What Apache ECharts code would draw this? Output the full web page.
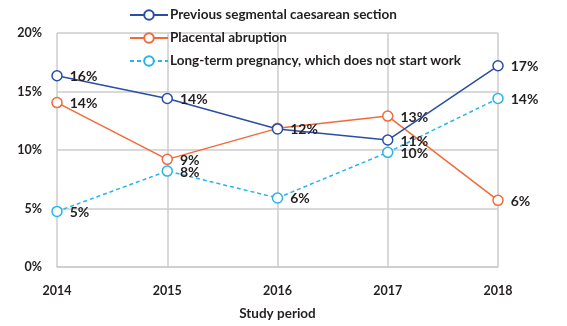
<!DOCTYPE html>
<html><head><meta charset="utf-8">
<script src="https://cdn.jsdelivr.net/npm/echarts@6/dist/echarts.min.js"></script>
<style>html,body{margin:0;padding:0;background:#fff}#c{width:567px;height:326px}</style>
</head><body><div id="c"></div>
<script>
const categories = ['2014','2015','2016','2017','2018'];
const seriesNames = ['Previous segmental caesarean section','Placental abruption','Long-term pregnancy, which does not start work'];
const caesarean = [16.35, 14.4, 11.8, 10.85, 17.2];
const abruption = [14.05, 9.2, 11.85, 12.9, 5.7];
const longTerm = [4.75, 8.2, 5.9, 9.8, 14.4];
const hiddenLabels = [[], [2], []];
const yTicks = [0, 5, 10, 15, 20];

const FONT = 'Lato';
const TXT = '#231f20';
const colors = ['#2b4ea5', '#f26a3a', '#27b4ea'];
const styles = ['solid', 'solid', [4, 3]];
const values = [caesarean, abruption, longTerm];

const chart = echarts.init(document.getElementById('c'));
chart.setOption({
  animation: false,
  textStyle: {fontFamily: FONT},
  legend: {
    orient: 'vertical', left: 124, top: 3, itemGap: 9,
    itemWidth: 38, itemHeight: 12,
    textStyle: {fontFamily: FONT, fontSize: 13.5, fontWeight: 700, color: TXT, padding: [0,0,0,-3]},
    data: seriesNames
  },
  grid: {left: 57, right: 69, top: 33, bottom: 58},
  xAxis: {
    type: 'category', data: categories, boundaryGap: false,
    name: 'Study period', nameLocation: 'middle', nameGap: 40,
    nameTextStyle: {fontFamily: FONT, fontSize: 13.5, fontWeight: 700, color: TXT},
    axisLine: {lineStyle: {color: '#cccccc', width: 1.5}},
    axisTick: {show: false},
    axisLabel: {fontFamily: FONT, fontSize: 12.5, fontWeight: 700, color: TXT, margin: 17},
    splitLine: {show: true, lineStyle: {color: '#cccccc', width: 1.5}}
  },
  yAxis: {
    type: 'value', min: yTicks[0], max: yTicks[yTicks.length-1], interval: 5,
    axisLine: {show: false}, axisTick: {show: false},
    axisLabel: {fontFamily: FONT, fontSize: 12.5, fontWeight: 700, color: TXT, margin: 15, formatter: v => v + '%'},
    splitLine: {lineStyle: {color: '#cccccc', width: 1.5}}
  },
  series: seriesNames.map((n, i) => ({
    name: n, type: 'line', symbol: 'circle', symbolSize: 10,
    itemStyle: {color: '#fff', borderColor: colors[i], borderWidth: 1.5},
    lineStyle: {color: colors[i], width: 1.5, type: styles[i]},
    z: 3 - i,
    label: {show: true, position: 'right', distance: 7, offset: [0, 1], fontFamily: FONT, fontSize: 14, fontWeight: 700, color: TXT,
      formatter: p => Math.round(p.value) + '%'},
    data: values[i].map((v, j) => hiddenLabels[i].includes(j) ? {value: v, label: {show: false}} : v)
  }))
});
</script></body></html>
